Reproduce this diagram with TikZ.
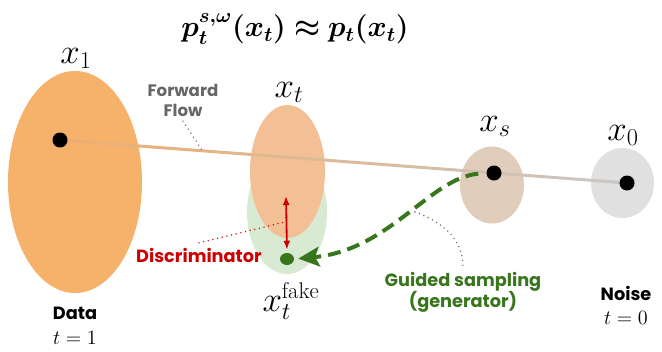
\documentclass[tikz,border=0pt]{standalone}
\usepackage{amsmath,amssymb,bm}
\usepackage{xcolor}
\usepackage{fontspec}
\newfontfamily\lblfont{Poppins}
\usepackage{tikz}
\usetikzlibrary{shapes,arrows.meta,calc}

\definecolor{dataorange}{HTML}{F6B26B}
\definecolor{midorange}{HTML}{F2C094}
\definecolor{fakegreen}{HTML}{D9EAD3}
\definecolor{sbeige}{HTML}{E0CDBC}
\definecolor{noisegray}{HTML}{E0E0E0}
\definecolor{flowL}{HTML}{EDAE70}
\definecolor{flowM}{HTML}{E2BF9E}
\definecolor{flowR}{HTML}{C9C7C5}
\definecolor{guidegreen}{HTML}{38761D}
\definecolor{discred}{HTML}{CC0000}
\definecolor{flowgray}{HTML}{666666}

\begin{document}
\begin{tikzpicture}[
    x=0.025cm, y=-0.025cm,
    blob/.style={ellipse, inner sep=0pt},
    dot/.style={circle, fill=black, inner sep=0pt, minimum size=0.375cm},
    xlabel/.style={anchor=base, font=\fontsize{23}{27}\selectfont},
    tlabel/.style={anchor=base, font=\fontsize{14}{17}\selectfont},
    tag/.style={anchor=base, font=\lblfont\bfseries\fontsize{12.6}{15}\selectfont},
    pointer/.style={line width=1.1pt, dash pattern=on 0pt off 3.4pt, line cap=round}]
    \useasboundingbox (0,0) rectangle (662,351);

    % distributions
    \node[blob, fill=dataorange, minimum width=3.35cm, minimum height=5.55cm] (data) at (75,182) {};
    \node[blob, fill=fakegreen, minimum width=2.0cm, minimum height=3.1cm] (fake) at (287,212) {};
    \node[blob, fill=midorange, minimum width=1.875cm, minimum height=3.325cm] (mid) at (287.5,171.5) {};
    \node[blob, fill=sbeige, minimum width=1.6cm, minimum height=1.925cm] (sblob) at (492,185) {};
    \node[blob, fill=noisegray, minimum width=1.575cm, minimum height=1.75cm] (noise) at (622.5,183) {};

    % forward flow
    \coordinate (p1) at (60,140);
    \coordinate (ps) at (494,173);
    \coordinate (p0) at (627,183);
    \shade[left color=flowL, middle color=flowM, right color=flowR]
        ($(p1)+(0,-1.5)$) -- ($(p0)+(0,-1.5)$) -- ($(p0)+(0,1.5)$) -- ($(p1)+(0,1.5)$) -- cycle;
    \node[dot] (d1) at (p1) {};
    \node[dot] (ds) at (ps) {};
    \node[dot] (d0) at (p0) {};
    \node[ellipse, fill=guidegreen, inner sep=0pt, minimum width=0.35cm, minimum height=0.3cm] (fakedot) at (287,259) {};

    % labels
    \node[font=\fontsize{20.5}{24}\selectfont] (eq) at (295,29) {$\bm{p_t^{s,\omega}(x_t) \approx p_t(x_t)}$};
    \node[xlabel] (lx1) at (76,63) {$x_1$};
    \node[xlabel] (lxt) at (289,97) {$x_t$};
    \node[xlabel] (lxs) at (495,131) {$x_s$};
    \node[xlabel] (lx0) at (623,140) {$x_0$};
    \node[xlabel, inner sep=1pt] (lfake) at (291,311) {$x_t^{\mathrm{fake}}$};
    \node[tag] (ldata) at (75,319) {Data};
    \node[tlabel] (t1) at (75,344) {$t=1$};
    \node[tag] (lnoise) at (626,300) {Noise};
    \node[tlabel] (t0) at (626,324) {$t=0$};
    \node[tag, text=discred] (disc) at (199,262) {Discriminator};
    \node[tag, anchor=center, align=center, text=guidegreen] (guided) at (463,292) {Guided sampling\\(generator)};
    \node[tag, anchor=center, align=center, text=flowgray, font=\lblfont\bfseries\fontsize{11.8}{14.2}\selectfont] (fwd) at (183,100) {Forward\\Flow};

    % arrows
    \coordinate (dtop) at (286,196);
    \draw[discred, line width=1.3pt, {Latex[length=6.4pt,width=5pt]}-{Latex[length=6.4pt,width=5pt]}, shorten >=0.075cm] (dtop) -- (fakedot.north);
    \draw[guidegreen, line width=2.85pt, dash pattern=on 9.2pt off 5pt, -{Stealth[length=15pt,width=14pt,inset=3pt]}, shorten <=0.2cm, shorten >=0.1cm]
        (ds.west) .. controls (430,178) and (390,250) .. (fakedot.east);

    % pointers
    \coordinate (ffoot) at (202,150);
    \coordinate (dfoot) at (285,222);
    \coordinate (gtip) at (415,212);
    \draw[pointer, flowgray] (fwd.south) -- (ffoot);
    \draw[pointer, discred] (disc.north) -- (dfoot);
    \draw[pointer, flowgray] (gtip) to[out=-20, in=90] (guided.north);
\end{tikzpicture}
\end{document}
